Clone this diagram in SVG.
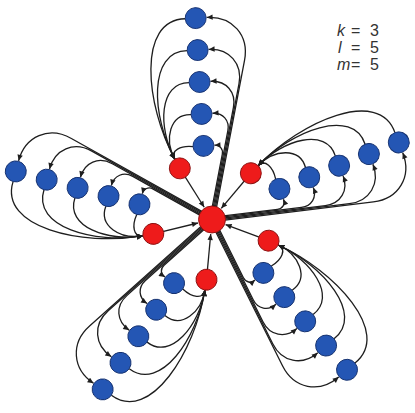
<svg xmlns="http://www.w3.org/2000/svg" width="415" height="413" viewBox="0 0 415 413">
<defs>
<style>
.bg{fill:#ffffff}
.e{fill:none;stroke:#1e1e1e;stroke-width:1.3;marker-end:url(#ah)}
.blue{fill:#2456b4;stroke:#14306e;stroke-width:0.9}
.red{fill:#ee1b1b;stroke:#8a1010;stroke-width:0.9}
.lbl{font-family:"Liberation Sans",Arial,sans-serif;font-size:16px;fill:#333333}
.it{font-style:italic}
</style>
<marker id="ah" viewBox="0 0 10 10" refX="10" refY="5" markerWidth="7" markerHeight="6" markerUnits="userSpaceOnUse" orient="auto">
<path d="M0,0.5 L10,5 L0,9.5 z" fill="#1e1e1e"/>
</marker>
</defs>
<rect class="bg" x="0" y="0" width="415" height="413"/>

<g id="connectors">
<g id="edges-top" transform="translate(212 219.5) rotate(-93.5)">
<path class="e" d="M0,-2.2 L64.63,14.28 C69.78,15.59 74,12.32 74,7"/>
<path class="e" d="M0,-1.1 L87.66,21.25 C97.75,23.82 106,17.41 106,7"/>
<path class="e" d="M0,0 L110.68,28.23 C125.71,32.06 138,22.5 138,7"/>
<path class="e" d="M0,1.1 L133.71,35.2 C153.67,40.29 170,27.6 170,7"/>
<path class="e" d="M0,2.2 L156.74,42.17 C181.63,48.52 202,32.69 202,7"/>
<path class="e" d="M74,-14.5 C76,-26.5 71.56,-37.63 62.5,-33.4"/>
<path class="e" d="M106,-14.5 C108,-35.5 83.34,-43.13 62.5,-33.4"/>
<path class="e" d="M138,-14.5 C140,-44.5 95.12,-48.63 62.5,-33.4"/>
<path class="e" d="M170,-14.5 C172,-53.5 106.89,-54.13 62.5,-33.4"/>
<path class="e" d="M202,-14.5 C204,-62.5 118.67,-59.63 62.5,-33.4"/>
<path class="e" d="M53,-29 L12.7,-7"/>
</g>
<g id="edges-right" transform="translate(212 219.5) rotate(-21.3)">
<path class="e" d="M0,-2.2 L64.63,14.28 C69.78,15.59 74,12.32 74,7"/>
<path class="e" d="M0,-1.1 L87.66,21.25 C97.75,23.82 106,17.41 106,7"/>
<path class="e" d="M0,0 L110.68,28.23 C125.71,32.06 138,22.5 138,7"/>
<path class="e" d="M0,1.1 L133.71,35.2 C153.67,40.29 170,27.6 170,7"/>
<path class="e" d="M0,2.2 L156.74,42.17 C181.63,48.52 202,32.69 202,7"/>
<path class="e" d="M74,-14.5 C76,-26.5 71.56,-37.63 62.5,-33.4"/>
<path class="e" d="M106,-14.5 C108,-35.5 83.34,-43.13 62.5,-33.4"/>
<path class="e" d="M138,-14.5 C140,-44.5 95.12,-48.63 62.5,-33.4"/>
<path class="e" d="M170,-14.5 C172,-53.5 106.89,-54.13 62.5,-33.4"/>
<path class="e" d="M202,-14.5 C204,-62.5 118.67,-59.63 62.5,-33.4"/>
<path class="e" d="M53,-29 L12.7,-7"/>
</g>
<g id="edges-lowright" transform="translate(212 219.5) rotate(49.2)">
<path class="e" d="M0,-2.2 L64.63,14.28 C69.78,15.59 74,12.32 74,7"/>
<path class="e" d="M0,-1.1 L87.66,21.25 C97.75,23.82 106,17.41 106,7"/>
<path class="e" d="M0,0 L110.68,28.23 C125.71,32.06 138,22.5 138,7"/>
<path class="e" d="M0,1.1 L133.71,35.2 C153.67,40.29 170,27.6 170,7"/>
<path class="e" d="M0,2.2 L156.74,42.17 C181.63,48.52 202,32.69 202,7"/>
<path class="e" d="M74,-14.5 C76,-26.5 71.56,-37.63 62.5,-33.4"/>
<path class="e" d="M106,-14.5 C108,-35.5 83.34,-43.13 62.5,-33.4"/>
<path class="e" d="M138,-14.5 C140,-44.5 95.12,-48.63 62.5,-33.4"/>
<path class="e" d="M170,-14.5 C172,-53.5 106.89,-54.13 62.5,-33.4"/>
<path class="e" d="M202,-14.5 C204,-62.5 118.67,-59.63 62.5,-33.4"/>
<path class="e" d="M53,-29 L12.7,-7"/>
</g>
<g id="edges-bottom" transform="translate(212 219.5) rotate(123.9)">
<path class="e" d="M0,-2.2 L64.63,14.28 C69.78,15.59 74,12.32 74,7"/>
<path class="e" d="M0,-1.1 L87.66,21.25 C97.75,23.82 106,17.41 106,7"/>
<path class="e" d="M0,0 L110.68,28.23 C125.71,32.06 138,22.5 138,7"/>
<path class="e" d="M0,1.1 L133.71,35.2 C153.67,40.29 170,27.6 170,7"/>
<path class="e" d="M0,2.2 L156.74,42.17 C181.63,48.52 202,32.69 202,7"/>
<path class="e" d="M74,-14.5 C76,-26.5 71.56,-37.63 62.5,-33.4"/>
<path class="e" d="M106,-14.5 C108,-35.5 83.34,-43.13 62.5,-33.4"/>
<path class="e" d="M138,-14.5 C140,-44.5 95.12,-48.63 62.5,-33.4"/>
<path class="e" d="M170,-14.5 C172,-53.5 106.89,-54.13 62.5,-33.4"/>
<path class="e" d="M202,-14.5 C204,-62.5 118.67,-59.63 62.5,-33.4"/>
<path class="e" d="M53,-29 L12.7,-7"/>
</g>
<g id="edges-left" transform="translate(212 219.5) rotate(194.9)">
<path class="e" d="M0,-2.2 L64.63,14.28 C69.78,15.59 74,12.32 74,7"/>
<path class="e" d="M0,-1.1 L87.66,21.25 C97.75,23.82 106,17.41 106,7"/>
<path class="e" d="M0,0 L110.68,28.23 C125.71,32.06 138,22.5 138,7"/>
<path class="e" d="M0,1.1 L133.71,35.2 C153.67,40.29 170,27.6 170,7"/>
<path class="e" d="M0,2.2 L156.74,42.17 C181.63,48.52 202,32.69 202,7"/>
<path class="e" d="M74,-14.5 C76,-26.5 71.56,-37.63 62.5,-33.4"/>
<path class="e" d="M106,-14.5 C108,-35.5 83.34,-43.13 62.5,-33.4"/>
<path class="e" d="M138,-14.5 C140,-44.5 95.12,-48.63 62.5,-33.4"/>
<path class="e" d="M170,-14.5 C172,-53.5 106.89,-54.13 62.5,-33.4"/>
<path class="e" d="M202,-14.5 C204,-62.5 118.67,-59.63 62.5,-33.4"/>
<path class="e" d="M53,-29 L12.7,-7"/>
</g>
</g>

<g id="nodes">
<g id="center"><circle class="red" cx="212" cy="219.5" r="13.5"/></g>

<g id="top-red" transform="translate(212 219.5) rotate(-93.5)"><circle class="red" cx="53" cy="-29" r="10.5"/></g>
<g id="top-b1" transform="translate(212 219.5) rotate(-93.5)"><circle class="blue" cx="74" cy="-4" r="10.5"/></g>
<g id="top-b2" transform="translate(212 219.5) rotate(-93.5)"><circle class="blue" cx="106" cy="-4" r="10.5"/></g>
<g id="top-b3" transform="translate(212 219.5) rotate(-93.5)"><circle class="blue" cx="138" cy="-4" r="10.5"/></g>
<g id="top-b4" transform="translate(212 219.5) rotate(-93.5)"><circle class="blue" cx="170" cy="-4" r="10.5"/></g>
<g id="top-b5" transform="translate(212 219.5) rotate(-93.5)"><circle class="blue" cx="202" cy="-4" r="10.5"/></g>

<g id="right-red" transform="translate(212 219.5) rotate(-21.3)"><circle class="red" cx="53" cy="-29" r="10.5"/></g>
<g id="right-b1" transform="translate(212 219.5) rotate(-21.3)"><circle class="blue" cx="74" cy="-4" r="10.5"/></g>
<g id="right-b2" transform="translate(212 219.5) rotate(-21.3)"><circle class="blue" cx="106" cy="-4" r="10.5"/></g>
<g id="right-b3" transform="translate(212 219.5) rotate(-21.3)"><circle class="blue" cx="138" cy="-4" r="10.5"/></g>
<g id="right-b4" transform="translate(212 219.5) rotate(-21.3)"><circle class="blue" cx="170" cy="-4" r="10.5"/></g>
<g id="right-b5" transform="translate(212 219.5) rotate(-21.3)"><circle class="blue" cx="202" cy="-4" r="10.5"/></g>

<g id="lowright-red" transform="translate(212 219.5) rotate(49.2)"><circle class="red" cx="53" cy="-29" r="10.5"/></g>
<g id="lowright-b1" transform="translate(212 219.5) rotate(49.2)"><circle class="blue" cx="74" cy="-4" r="10.5"/></g>
<g id="lowright-b2" transform="translate(212 219.5) rotate(49.2)"><circle class="blue" cx="106" cy="-4" r="10.5"/></g>
<g id="lowright-b3" transform="translate(212 219.5) rotate(49.2)"><circle class="blue" cx="138" cy="-4" r="10.5"/></g>
<g id="lowright-b4" transform="translate(212 219.5) rotate(49.2)"><circle class="blue" cx="170" cy="-4" r="10.5"/></g>
<g id="lowright-b5" transform="translate(212 219.5) rotate(49.2)"><circle class="blue" cx="202" cy="-4" r="10.5"/></g>

<g id="bottom-red" transform="translate(212 219.5) rotate(123.9)"><circle class="red" cx="53" cy="-29" r="10.5"/></g>
<g id="bottom-b1" transform="translate(212 219.5) rotate(123.9)"><circle class="blue" cx="74" cy="-4" r="10.5"/></g>
<g id="bottom-b2" transform="translate(212 219.5) rotate(123.9)"><circle class="blue" cx="106" cy="-4" r="10.5"/></g>
<g id="bottom-b3" transform="translate(212 219.5) rotate(123.9)"><circle class="blue" cx="138" cy="-4" r="10.5"/></g>
<g id="bottom-b4" transform="translate(212 219.5) rotate(123.9)"><circle class="blue" cx="170" cy="-4" r="10.5"/></g>
<g id="bottom-b5" transform="translate(212 219.5) rotate(123.9)"><circle class="blue" cx="202" cy="-4" r="10.5"/></g>

<g id="left-red" transform="translate(212 219.5) rotate(194.9)"><circle class="red" cx="53" cy="-29" r="10.5"/></g>
<g id="left-b1" transform="translate(212 219.5) rotate(194.9)"><circle class="blue" cx="74" cy="-4" r="10.5"/></g>
<g id="left-b2" transform="translate(212 219.5) rotate(194.9)"><circle class="blue" cx="106" cy="-4" r="10.5"/></g>
<g id="left-b3" transform="translate(212 219.5) rotate(194.9)"><circle class="blue" cx="138" cy="-4" r="10.5"/></g>
<g id="left-b4" transform="translate(212 219.5) rotate(194.9)"><circle class="blue" cx="170" cy="-4" r="10.5"/></g>
<g id="left-b5" transform="translate(212 219.5) rotate(194.9)"><circle class="blue" cx="202" cy="-4" r="10.5"/></g>
</g>

<g id="legend">
<text class="lbl" y="36"><tspan class="it" x="337">k</tspan><tspan x="351">=</tspan><tspan x="370">3</tspan></text>
<text class="lbl" y="53"><tspan class="it" x="338">l</tspan><tspan x="351">=</tspan><tspan x="370">5</tspan></text>
<text class="lbl" y="70"><tspan class="it" x="337">m</tspan><tspan x="351">=</tspan><tspan x="370">5</tspan></text>
</g>
</svg>
